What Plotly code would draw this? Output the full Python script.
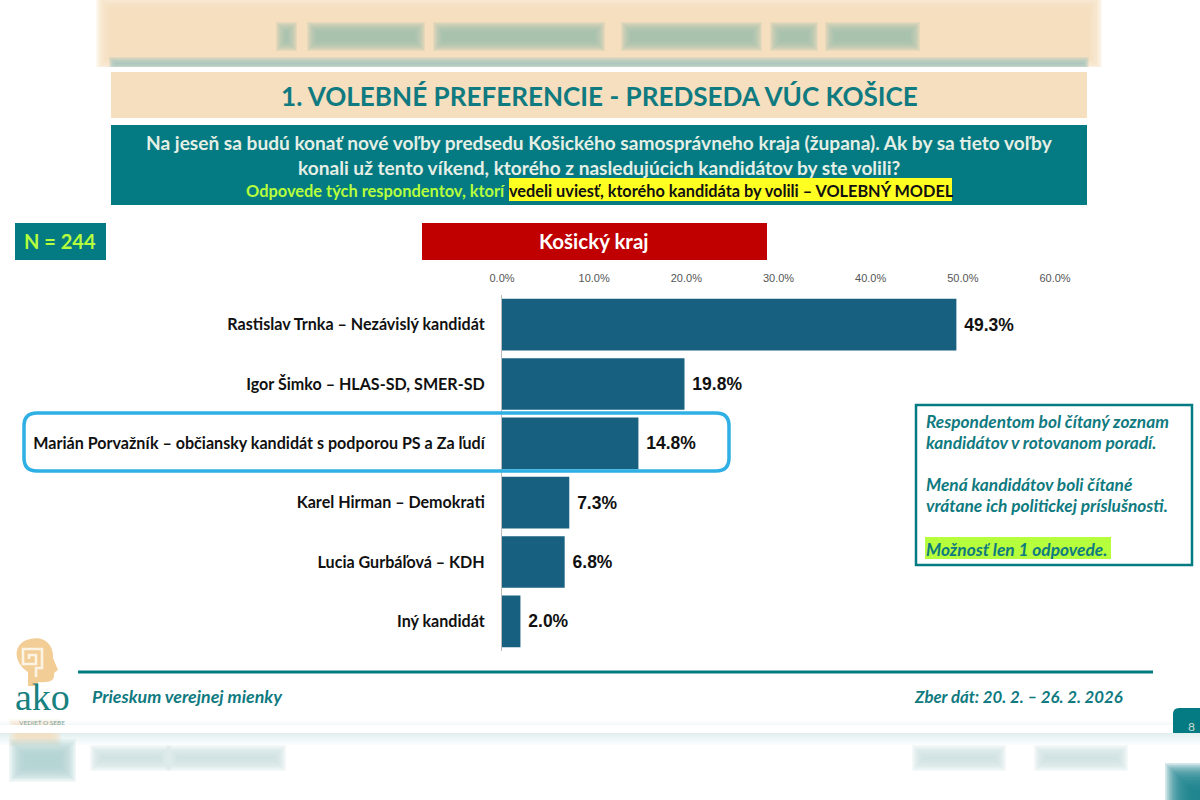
import plotly.graph_objects as go

# Chart values
candidates = [
    'Rastislav Trnka – Nezávislý kandidát',
    'Igor Šimko – HLAS-SD, SMER-SD',
    'Marián Porvažník – občiansky kandidát s podporou PS a Za ľudí',
    'Karel Hirman – Demokrati',
    'Lucia Gurbáľová – KDH',
    'Iný kandidát',
]
shares = [49.3, 19.8, 14.8, 7.3, 6.8, 2.0]
share_labels = ['49.3%', '19.8%', '14.8%', '7.3%', '6.8%', '2.0%']
tick_values = [0, 10, 20, 30, 40, 50, 60]
tick_labels = ['0.0%', '10.0%', '20.0%', '30.0%', '40.0%', '50.0%', '60.0%']

W, H = 1200, 800
TEAL = '#047A82'
TEAL_TEXT = '#0F7A80'
BEIGE = '#F6DFBE'
LIME = '#B6FF3C'
FONT = 'Lato'

shapes = []
annotations = []


def px(x):
    return x / W


def py(y):
    return 1 - y / H


def rect(x0, y0, x1, y1, fill, line=None, line_width=0, opacity=1, layer='below'):
    shapes.append(dict(
        type='rect', xref='paper', yref='paper',
        x0=px(x0), x1=px(x1), y0=py(y0), y1=py(y1),
        fillcolor=fill, opacity=opacity, layer=layer,
        line=dict(color=line, width=line_width) if line else dict(width=0),
    ))


def soft_rect(x0, y0, x1, y1, fill, blur=8, steps=10, opacity=0.98):
    # stack of shrinking translucent boxes, stands in for the blurred backdrop
    each = 1 - (1 - opacity) ** (1 / steps)
    for i in range(steps):
        d = blur * (i / (steps - 1) - 0.5)
        rect(x0 + d, y0 + d, x1 - d, y1 - d, fill, opacity=each)


def path(points, fill=None, line=None, line_width=0, layer='below'):
    # points are pixel pairs, or a letter then pixel pairs
    parts = []
    for p in points:
        if isinstance(p, str):
            parts.append(p)
        else:
            parts.append(f'{px(p[0]):.5f},{py(p[1]):.5f}')
    shapes.append(dict(
        type='path', xref='paper', yref='paper', path=' '.join(parts),
        fillcolor=fill, layer=layer,
        line=dict(color=line, width=line_width) if line else dict(width=0),
    ))


def text(x, y, s, size, color, anchor='center', bold=True, italic=False, family=FONT):
    if bold:
        s = f'<b>{s}</b>'
    if italic:
        s = f'<i>{s}</i>'
    annotations.append(dict(
        xref='paper', yref='paper', x=px(x), y=py(y), text=s, showarrow=False,
        xanchor=anchor, yanchor='middle', align=anchor,
        font=dict(size=size, color=color, family=family),
        borderpad=0, borderwidth=0,
    ))


# blurred copy of the slide behind, top
soft_rect(106, 5, 1092, 60, BEIGE, blur=20, steps=16)
soft_rect(112, 60, 1086, 67, '#9CC4BC', blur=6, steps=8, opacity=0.8)
for x0, x1 in [(281, 292), (312, 420), (438, 600), (626, 757), (775, 813), (830, 915)]:
    soft_rect(x0, 27, x1, 46, '#9DBEAF', blur=10, steps=10, opacity=0.85)
rect(0, 67, W, 72, 'white')

# blurred copy of the slide behind, bottom
soft_rect(-10, 728, 1210, 738, '#D5E7E7', blur=14, steps=10, opacity=0.6)
soft_rect(14, 724, 56, 742, BEIGE, blur=10, steps=8, opacity=0.8)
soft_rect(17, 747, 68, 774, '#AFD2D3', blur=16, steps=12, opacity=0.9)
for x0, x1 in [(96, 165), (172, 280)]:
    soft_rect(x0, 751, x1, 765, '#CFE3E3', blur=12, steps=10, opacity=0.9)
for x0, x1 in [(918, 1000), (1040, 1122)]:
    soft_rect(x0, 751, x1, 765, '#CFE3E3', blur=12, steps=10, opacity=0.9)
soft_rect(1180, 778, 1225, 825, '#1F878D', blur=30, steps=18)
rect(0, 725, W, 733, 'white')

# header boxes
rect(111, 72, 1087, 118, BEIGE)
text(599, 96, '1. VOLEBNÉ PREFERENCIE - PREDSEDA VÚC KOŠICE', 26.1, TEAL_TEXT)
rect(111, 125, 1087, 205, TEAL)
text(599, 143, 'Na jeseň sa budú konať nové voľby predsedu Košického samosprávneho kraja (župana). Ak by sa tieto voľby',
     19.1, '#E4EFE6')
text(599, 167, 'konali už tento víkend, ktorého z nasledujúcich kandidátov by ste volili?', 19.1, '#E4EFE6')
rect(509, 178, 952, 201, '#FFFF22')
text(508, 190, 'Odpovede tých respondentov, ktorí ', 16.4, LIME, anchor='right')
text(509, 190, 'vedeli uviesť, ktorého kandidáta by volili – VOLEBNÝ MODEL', 16.3, '#111111', anchor='left')

# N and region
rect(15, 223, 106, 260, TEAL)
text(60, 241, 'N = 244', 20, LIME)
rect(422, 223, 767, 260, '#C00000')
text(594, 241, 'Košický kraj', 20.5, '#FFFFFF')

# highlight around the third candidate
r = 13
x0, y0, x1, y1 = 24, 413, 729, 471
path(['M', (x0 + r, y0), 'L', (x1 - r, y0), 'Q', (x1, y0), (x1, y0 + r), 'L', (x1, y1 - r),
      'Q', (x1, y1), (x1 - r, y1), 'L', (x0 + r, y1), 'Q', (x0, y1), (x0, y1 - r),
      'L', (x0, y0 + r), 'Q', (x0, y0), (x0 + r, y0), 'Z'],
     line='#2FB0E4', line_width=3.5, layer='above')

# note box
rect(916, 405, 1192, 565, 'white', line=TEAL, line_width=2.5)
rect(925, 537, 1111, 559, '#B6FF3C')
for note_y, note in [(421, 'Respondentom bol čítaný zoznam'),
                     (442, 'kandidátov v rotovanom poradí.'),
                     (485, 'Mená kandidátov boli čítané'),
                     (506, 'vrátane ich politickej príslušnosti.'),
                     (549, 'Možnosť len 1 odpovede.')]:
    text(926, note_y, note, 17.3, TEAL_TEXT, anchor='left', italic=True)

# footer
rect(78, 670.5, 1153, 673.5, TEAL)
text(92, 696, 'Prieskum verejnej mienky', 17.8, TEAL_TEXT, anchor='left', italic=True)
text(914, 696, 'Zber dát: 20. 2. – 26. 2. 2026', 16.8, TEAL_TEXT, anchor='left', italic=True)
path(['M', (1173, 733), 'L', (1173, 714), 'Q', (1173, 708), (1179, 708), 'L', (1200, 708), 'L', (1200, 733), 'Z'],
     fill=TEAL)
text(1191, 726, '8', 12, '#C9DDD2', bold=False)

# logo
path(['M', (28, 686), 'L', (28, 672), 'C', (12, 662), (12, 640), (34, 638.5),
      'C', (47, 637), (54, 648), (53, 658), 'L', (58, 670), 'L', (54, 673),
      'C', (55, 681), (50, 683), (38, 682), 'L', (38, 686), 'Z'], fill='#F3CD96')
path(['M', (36, 677), 'L', (36, 668), 'L', (42, 668), 'L', (42, 649), 'L', (23, 649), 'L', (23, 664),
      'L', (36, 664), 'L', (36, 655), 'L', (29, 655), 'L', (29, 659)],
     line='#FBF3E4', line_width=2.6)
text(42, 697, 'ako', 38, '#17817F', bold=False, family='Liberation Serif')
text(42, 722, 'VEDIEŤ O SEBE', 6.5, '#7FA7A8', bold=False)

fig = go.Figure(go.Bar(
    x=shares,
    y=candidates,
    orientation='h',
    marker=dict(color='#17607F', line=dict(width=0)),
    text=['&nbsp;' + s for s in share_labels],
    textposition='outside',
    cliponaxis=False,
    textfont=dict(size=17.5, color='#111111', family='Liberation Sans', weight='bold'),
))

fig.update_layout(
    width=W,
    height=H,
    margin=dict(l=0, r=0, t=0, b=0),
    paper_bgcolor='white',
    plot_bgcolor='white',
    showlegend=False,
    bargap=0.13,
    shapes=shapes,
    annotations=annotations,
    xaxis=dict(
        domain=[px(502), px(1055)], range=[0, 60], side='top', automargin=False,
        tickmode='array', tickvals=tick_values, ticktext=tick_labels,
        tickfont=dict(size=11, color='#555555', family='Liberation Sans'),
        showgrid=False, zeroline=False, showline=False, ticks='', ticklabelstandoff=10,
    ),
    yaxis=dict(
        domain=[py(651), py(295)], autorange='reversed', automargin=False,
        tickfont=dict(size=16.1, color='#111111', family=FONT, weight='bold'),
        showgrid=False, zeroline=False, showline=True, linecolor='#BBBBBB', linewidth=1,
        ticks='', ticklabelstandoff=13,
    ),
)

fig.write_html(
    'out.html',
    config={'displayModeBar': False},
    post_script="document.body.style.margin='0';document.body.style.overflow='hidden';",
)
